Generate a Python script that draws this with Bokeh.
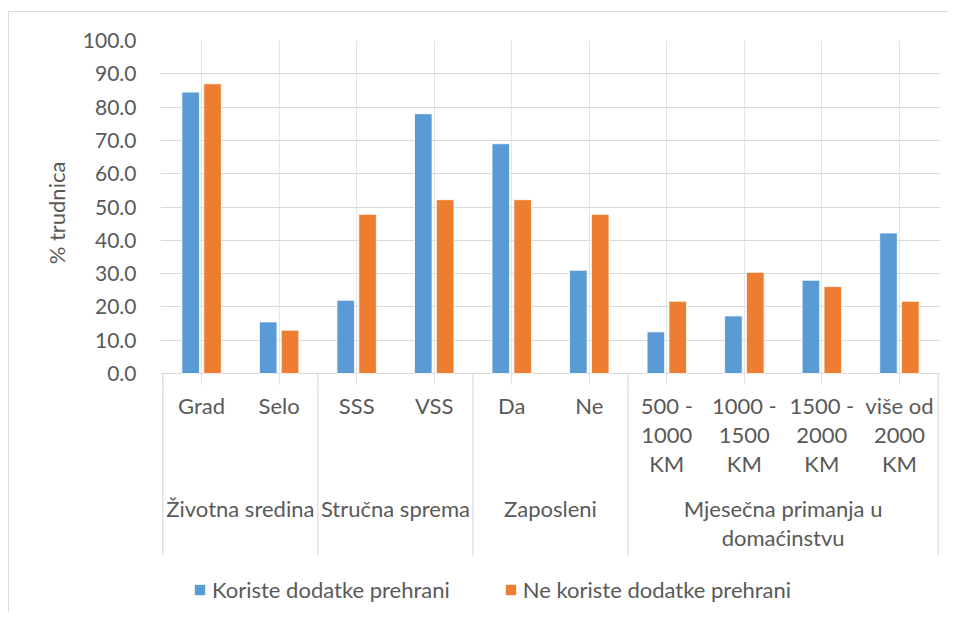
from bokeh.plotting import figure
from bokeh.layouts import column
from bokeh.models import (FactorRange, Range1d, FixedTicker, NumeralTickFormatter,
                          Legend, LegendItem, ColumnDataSource)
from bokeh.core.properties import value
from bokeh.transform import dodge
from bokeh.embed import file_html
from bokeh.resources import INLINE

# ---- data ----
groups = ["Životna sredina", "Životna sredina",
          "Stručna sprema", "Stručna sprema",
          "Zaposleni", "Zaposleni",
          "Mjesečna primanja u\ndomaćinstvu", "Mjesečna primanja u\ndomaćinstvu",
          "Mjesečna primanja u\ndomaćinstvu", "Mjesečna primanja u\ndomaćinstvu"]
subcats = ["Grad", "Selo", "SSS", "VSS", "Da", "Ne",
           "500 -\n1000\nKM", "1000 -\n1500\nKM", "1500 -\n2000\nKM", "više od\n2000\nKM"]
koriste = [84.5, 15.5, 22.0, 78.0, 69.0, 31.0, 12.5, 17.3, 28.0, 42.2]
ne_koriste = [87.0, 13.0, 47.8, 52.2, 52.2, 47.8, 21.7, 30.4, 26.1, 21.7]
series_names = ["Koriste dodatke prehrani", "Ne koriste dodatke prehrani"]
y_ticks = [0, 10, 20, 30, 40, 50, 60, 70, 80, 90, 100]

BLUE = "#5B9BD5"
ORANGE = "#ED7D31"
TXT = "#595959"
GRID = "#D9D9D9"
FONT = "Lato"
FS = "22px"

factors = list(zip(groups, subcats))
group_names = list(dict.fromkeys(groups))
group_first = [factors[groups.index(g)] for g in group_names]

src = ColumnDataSource(dict(x=factors, a=koriste, b=ne_koriste, sub=subcats))
sep_src = ColumnDataSource(dict(x=group_first))
end_src = ColumnDataSource(dict(x=[factors[-1]]))
xr = FactorRange(factors=factors, group_padding=0, factor_padding=0,
                 range_padding=0.03, range_padding_units="absolute")

# ---- main plot ----
Y0 = -3.6
p = figure(width=939, height=373, output_backend="svg", toolbar_location=None,
           x_range=xr, y_range=Range1d(Y0, 100), x_axis_location=None,
           min_border_left=151, min_border_right=8, min_border_top=28,
           min_border_bottom=0)
p.outline_line_color = None
p.border_fill_color = "white"

off = 0.141
bw = 0.227
r1 = p.vbar(x=dodge("x", -off, range=xr), top="a", width=bw, source=src,
            fill_color=BLUE, line_color="white", line_width=0.8)
r2 = p.vbar(x=dodge("x", off, range=xr), top="b", width=bw, source=src,
            fill_color=ORANGE, line_color="white", line_width=0.8)

# top part of the category separators (below the zero line)
for sc, d in ((sep_src, -0.5), (end_src, 0.5)):
    p.segment(x0=dodge("x", d, range=xr), x1=dodge("x", d, range=xr),
              y0=0, y1=Y0, source=sc, line_color=GRID, line_width=1.2)

ya = p.yaxis[0]
ya.ticker = FixedTicker(ticks=y_ticks)
ya.formatter = NumeralTickFormatter(format="0.0")
ya.axis_line_color = None
ya.major_tick_line_color = None
ya.minor_tick_line_color = None
ya.major_label_text_font = FONT
ya.major_label_text_font_size = "21px"
ya.major_label_text_color = TXT
ya.major_label_standoff = 18
ya.axis_label = "% trudnica"
ya.axis_label_text_font = FONT
ya.axis_label_text_font_size = FS
ya.axis_label_text_font_style = "normal"
ya.axis_label_text_color = TXT
ya.axis_label_standoff = 10

p.ygrid.grid_line_color = GRID
p.ygrid.grid_line_width = 1.2
p.ygrid.ticker = FixedTicker(ticks=y_ticks)

# ---- category label strip (shares the x scale) ----
s = figure(width=939, height=227, output_backend="svg", toolbar_location=None,
           x_range=xr, y_range=Range1d(-227, 0),
           x_axis_location=None, y_axis_location=None,
           min_border_left=151, min_border_right=8, min_border_top=0,
           min_border_bottom=0)
s.outline_line_color = None
s.border_fill_color = "white"
s.grid.visible = False

txt_kw = dict(text_font=value(FONT), text_font_size=value(FS), text_color=TXT,
              text_align="center", text_baseline="top", text_line_height=1.08)
s.text(x="x", y=-6, text="sub", source=src, **txt_kw)
s.text(x="g", y=-109, text="g", source=ColumnDataSource(dict(g=group_names)), **txt_kw)

for sc, d in ((sep_src, -0.5), (end_src, 0.5)):
    s.segment(x0=dodge("x", d, range=xr), x1=dodge("x", d, range=xr),
              y0=0, y1=-170, source=sc, line_color=GRID, line_width=1.2)

# legend swatches (zero-size bars; only their legend glyphs show)
sw_src = ColumnDataSource(dict(x=[factors[0]], t=[0]))
lr1 = s.vbar(x="x", top="t", bottom="t", width=0, source=sw_src,
             fill_color=BLUE, line_color=None)
lr2 = s.vbar(x="x", top="t", bottom="t", width=0, source=sw_src,
             fill_color=ORANGE, line_color=None)
legend = Legend(items=[LegendItem(label=series_names[0], renderers=[lr1]),
                       LegendItem(label=series_names[1], renderers=[lr2])],
                orientation="horizontal", location=(33, 9),
                label_text_font=FONT, label_text_font_size=FS, label_text_color=TXT,
                glyph_width=13, glyph_height=13, label_standoff=6, spacing=54,
                border_line_color=None, background_fill_alpha=0, padding=0, margin=0)
s.add_layout(legend, "center")

layout = column(p, s, spacing=0)
layout.styles = {"border-top": "1px solid #D9D9D9", "border-left": "1px solid #D9D9D9",
                 "margin-left": "8px", "margin-top": "11px"}

open("out.html", "w").write(file_html(layout, INLINE))
